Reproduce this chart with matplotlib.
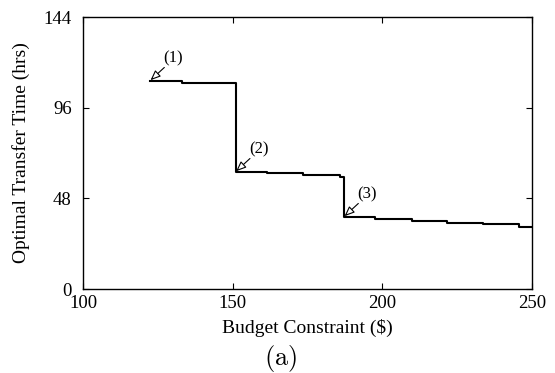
import matplotlib
matplotlib.use("Agg")
import matplotlib.pyplot as plt

plt.rcParams['font.family'] = ['Liberation Serif', 'DejaVu Serif']
plt.rcParams['mathtext.fontset'] = 'cm'

# Budget breakpoints ($) and optimal transfer time (hrs) for each step
budget = [122.4, 133.0, 151.0, 161.6, 173.6, 185.9, 187.2, 197.5, 209.8, 221.7, 233.7, 245.7, 250.0]
transfer_time = [110.3, 109.2, 62.1, 61.2, 60.3, 59.1, 38.3, 37.1, 36.0, 35.1, 34.2, 33.0, 33.0]

# Annotated points: label, budget, time
labels = ["(1)", "(2)", "(3)"]
label_budget = [122.4, 151.0, 187.2]
label_time = [110.3, 62.1, 38.3]

x_ticks = [100, 150, 200, 250]
y_ticks = [0, 48, 96, 144]

fig = plt.figure(figsize=(5.55, 3.73), dpi=100)
ax = fig.add_axes([0.1495, 0.2252, 0.8091, 0.7292])

ax.step(budget, transfer_time, where='post', color='black', lw=1.5)

for lab, bx, ty in zip(labels, label_budget, label_time):
    # hollow-headed pointer from upper right down to the step corner
    ax.annotate('', xy=(bx, ty), xytext=(10.3, 9.5), textcoords='offset points',
                arrowprops=dict(arrowstyle='-|>,head_length=0.6,head_width=0.25',
                                fc='white', ec='black', lw=0.8,
                                shrinkA=0, shrinkB=0.5))
    ax.annotate(lab, xy=(bx, ty), xytext=(9.8, 10.5), textcoords='offset points',
                fontsize=12, ha='left', va='bottom')

ax.set_xlim(100, 250)
ax.set_ylim(0, 144)
ax.set_xticks(x_ticks)
ax.set_yticks(y_ticks)
ax.tick_params(direction='in', top=True, right=True, labelsize=13.5, length=4)
ax.tick_params(axis='y', pad=8)
ax.tick_params(axis='x', pad=4)
for s in ax.spines.values():
    s.set_linewidth(1.0)

ax.set_xlabel('Budget Constraint ($)', fontsize=14, labelpad=5)
ax.set_ylabel('Optimal Transfer Time (hrs)', fontsize=14, labelpad=10)

fig.text(0.506, 0.038, r'$\mathrm{(a)}$', ha='center', va='center', fontsize=19)

fig.savefig('out.png', dpi=100)
